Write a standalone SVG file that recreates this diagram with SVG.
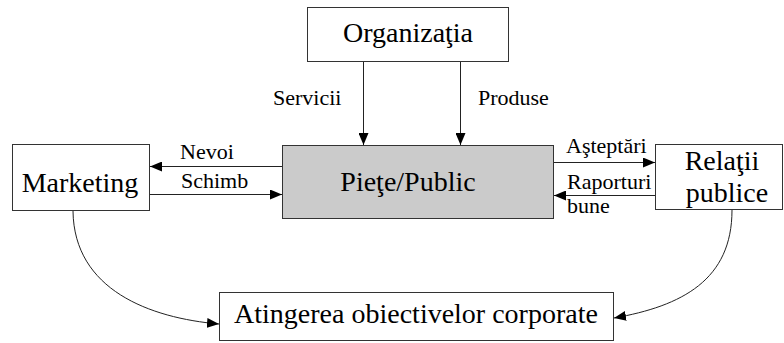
<svg xmlns="http://www.w3.org/2000/svg" width="784" height="343" viewBox="0 0 784 343">
  <style>
    .box { fill: #ffffff; stroke: #333333; stroke-width: 1; }
    .shaded { fill: #cbcbcb; stroke: #333333; stroke-width: 1; }
    .big { font-family: "Liberation Serif", "Times New Roman", serif; font-size: 28px; fill: #000000; }
    .small { font-family: "Liberation Serif", "Times New Roman", serif; font-size: 22px; fill: #000000; }
    .link { fill: none; stroke: #222222; stroke-width: 1; marker-end: url(#head); }
  </style>
  <defs>
    <!-- solid triangular arrowhead shared by all connectors -->
    <marker id="head" viewBox="0 0 12 10" refX="12" refY="5" markerWidth="12" markerHeight="10" markerUnits="userSpaceOnUse" orient="auto">
      <path d="M0,0 L12,5 L0,10 Z" fill="#000000"/>
    </marker>
  </defs>

  <g id="organizatia">
    <rect class="box" x="307.5" y="7.5" width="201" height="54"/>
    <text class="big" x="408" y="42" text-anchor="middle">Organizaţia</text>
  </g>

  <g id="piete-public">
    <rect class="shaded" x="282.5" y="145.5" width="271" height="73"/>
    <text class="big" x="408" y="191" text-anchor="middle">Pieţe/Public</text>
  </g>

  <g id="marketing">
    <rect class="box" x="12.5" y="144.5" width="137" height="66"/>
    <text class="big" x="80" y="192" text-anchor="middle">Marketing</text>
  </g>

  <g id="relatii-publice">
    <rect class="box" x="655.5" y="144.5" width="127" height="65"/>
    <text class="big" x="722" y="170" text-anchor="middle">Relaţii</text>
    <text class="big" x="727" y="202" text-anchor="middle">publice</text>
  </g>

  <g id="obiective">
    <rect class="box" x="219.5" y="292.5" width="394" height="48"/>
    <text class="big" x="416" y="323" text-anchor="middle">Atingerea obiectivelor corporate</text>
  </g>

  <g id="connectors">
    <line class="link" x1="363.5" y1="62" x2="363.5" y2="145"/>
    <line class="link" x1="460.5" y1="62" x2="460.5" y2="145"/>
    <line class="link" x1="282" y1="166.5" x2="150" y2="166.5"/>
    <line class="link" x1="150" y1="194.5" x2="282" y2="194.5"/>
    <line class="link" x1="554" y1="162.5" x2="655" y2="162.5"/>
    <line class="link" x1="655" y1="195.5" x2="554" y2="195.5"/>
    <path class="link" d="M73,211 C74,290 150,318 219,324"/>
    <path class="link" d="M732,210 C732,280 682,306 614,318"/>
  </g>

  <g id="labels">
    <text class="small" x="273" y="105">Servicii</text>
    <text class="small" x="478" y="105">Produse</text>
    <text class="small" x="180" y="159">Nevoi</text>
    <text class="small" x="181" y="188">Schimb</text>
    <text class="small" x="566" y="153">Aşteptări</text>
    <text class="small" x="567" y="189">Raporturi</text>
    <text class="small" x="567" y="213">bune</text>
  </g>
</svg>
